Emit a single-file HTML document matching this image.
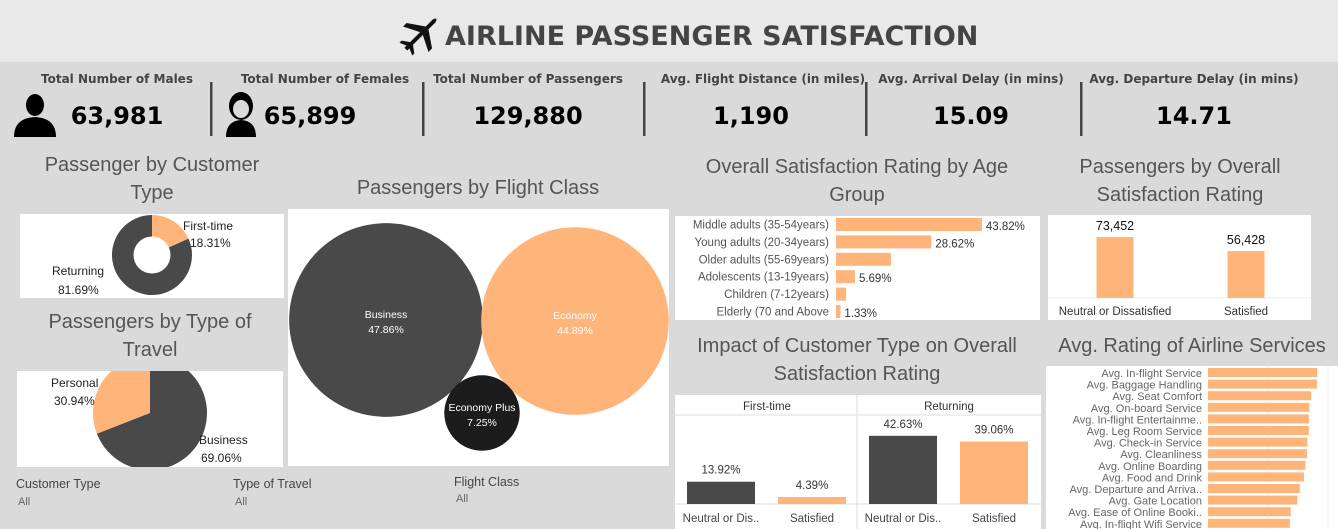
<!DOCTYPE html>
<html><head><meta charset="utf-8"><style>
html,body{margin:0;padding:0;width:1338px;height:529px;overflow:hidden;background:#dadada;}
svg{display:block;}
text{font-family:"Liberation Sans",sans-serif;}
text.dv{font-family:"DejaVu Sans",sans-serif;}
</style></head><body>
<svg id="s" width="1338" height="529" xmlns="http://www.w3.org/2000/svg">
<rect x="0" y="0" width="1338" height="529" fill="#dadada"/>
<rect x="0" y="0" width="1338" height="62" fill="#e9e9e9"/>
<g transform="translate(420,35) rotate(-45)">
<path d="M-20,-2 L20,-2 Q26,0 20,2 L-20,2 Z M2,-2 L-6,-18 L-1,-18 L10,-2 Z M2,2 L-6,18 L-1,18 L10,2 Z M-17,-2 L-20,-9 L-17,-9 L-12,-2 Z M-17,2 L-20,9 L-17,9 L-12,2 Z" fill="#111"/>
</g>
<text class="dv" x="445" y="45" font-weight="bold" font-size="27" fill="#444">AIRLINE PASSENGER SATISFACTION</text>
<g id="kpis"></g>
<g id="charts"></g>
</svg>
<script>
const NS="http://www.w3.org/2000/svg";
const root=document.getElementById('charts');
function el(tag,attrs,parent,txt){const e=document.createElementNS(NS,tag);for(const k in attrs)e.setAttribute(k,attrs[k]);if(txt!==undefined)e.textContent=txt;(parent||root).appendChild(e);return e;}
const ORANGE="#ffb47a",DARK="#494949",TITLE="#555";

/* KPI data */
const kpiLabels=["Total Number of Males","Total Number of Females","Total Number of Passengers","Avg. Flight Distance (in miles)","Avg. Arrival Delay (in mins)","Avg. Departure Delay (in mins)"];
const kpiValues=["63,981","65,899","129,880","1,190","15.09","14.71"];
const kpiLabelX=[117,325,528,763,971,1194];
const kpiValueX=[117,310,528,751,971,1194];
const kg=document.getElementById('kpis');
for(let i=0;i<kpiLabels.length;i++){
 let t=el('text',{x:kpiLabelX[i],y:83,'text-anchor':'middle','font-size':12,'font-weight':'bold',fill:'#444',class:'dv'},kg,kpiLabels[i]);
 
 
 let v=el('text',{x:kpiValueX[i],y:124,'text-anchor':'middle','font-size':24,'font-weight':'bold',fill:'#000',class:'dv'},kg,kpiValues[i]);
 
 
}
[210,422,643,865,1080].forEach(x=>{let l=el('rect',{x:x,y:82,width:2.5,height:54,fill:'#444'},kg);
 
 });
let mi=el('g',{},kg);
el('ellipse',{cx:35,cy:105,rx:9,ry:11,fill:'#000'},mi);
el('path',{d:'M14,137 Q14,118 35,117 Q56,118 56,137 Z',fill:'#000'},mi);
let fi=el('g',{},kg);
el('ellipse',{cx:241,cy:106,rx:12,ry:14,fill:'#000'},fi);
el('ellipse',{cx:241,cy:109,rx:8,ry:9,fill:'#dadada'},fi);
el('path',{d:'M226,137 Q226,121 241,120 Q256,121 256,137 Z',fill:'#000'},fi);

function title(lines,cx,y0,name){lines.forEach((l,i)=>{let t=el('text',{x:cx,y:y0+i*28,'text-anchor':'middle','font-size':20,fill:TITLE},root,l);
 });}
function panel(x,y,w,h,name){let r=el('rect',{x:x,y:y,width:w,height:h,fill:'#fff'});return r;}
function txt(x,y,s,opts,name){let t=el('text',Object.assign({x:x,y:y,'font-size':11.5,fill:'#222'},opts||{}),root,s);return t;}
function arc(cx,cy,r,a0,a1){const p=a=>[cx+r*Math.sin(a),cy-r*Math.cos(a)];const [x0,y0]=p(a0),[x1,y1]=p(a1);const lg=(a1-a0)>Math.PI?1:0;return `M${cx},${cy} L${x0},${y0} A${r},${r} 0 ${lg} 1 ${x1},${y1} Z`;}

/* Customer type donut */
const custCats=["First-time","Returning"];
const custVals=[18.31,81.69];
title(["Passenger by Customer","Type"],152,171,'customer-type-title');
panel(20,214,264,84,'customer-type-panel');
{let a=0;custCats.forEach((c,i)=>{const a1=a+custVals[i]/100*2*Math.PI;let p=el('path',{d:arc(152,255,40,a,a1),fill:i==0?ORANGE:DARK});
 a=a1;});
 el('circle',{cx:152,cy:255,r:18.5,fill:'#fff'});}
txt(183,230,custCats[0],{'font-size':12},'label-first-time');
txt(190,247,custVals[0].toFixed(2)+'%',{'font-size':12},'value-first-time');
txt(52,275,custCats[1],{'font-size':12},'label-returning');
txt(58,294,custVals[1].toFixed(2)+'%',{'font-size':12},'value-returning');

/* Type of travel pie */
const travelCats=["Personal","Business"];
const travelVals=[30.94,69.06];
title(["Passengers by Type of","Travel"],150,328,'type-of-travel-title');
panel(17,371,266,96,'type-of-travel-panel');
{const cp=el('clipPath',{id:'tc'});el('rect',{x:17,y:371,width:266,height:96},cp);}
{const g=el('g',{'clip-path':'url(#tc)'});let a=-travelVals[0]/100*2*Math.PI;
 travelCats.forEach((c,i)=>{const a1=a+travelVals[i]/100*2*Math.PI;let p=el('path',{d:arc(150,413,57,a,a1),fill:i==0?ORANGE:DARK},g);
 a=a1;});}
txt(51,387,travelCats[0],{'font-size':12},'label-personal');
txt(54,405,travelVals[0].toFixed(2)+'%',{'font-size':12},'value-personal');
txt(199,444,travelCats[1],{'font-size':12},'label-business');
txt(201,462,travelVals[1].toFixed(2)+'%',{'font-size':12},'value-business');

/* Flight class bubbles */
const classCats=["Business","Economy","Economy Plus"];
const classVals=[47.86,44.89,7.25];
const classCenters=[[386,320],[575,321],[482,413]];
const classColors=[DARK,ORANGE,"#1c1c1c"];
title(["Passengers by Flight Class"],478,194,'flight-class-title');
panel(288,209,381,257,'flight-class-panel');
classCats.forEach((c,i)=>{const r=14*Math.sqrt(classVals[i]);let ci=el('circle',{cx:classCenters[i][0],cy:classCenters[i][1],r:r,fill:classColors[i]});
 
 txt(classCenters[i][0],classCenters[i][1]-2,c,{'text-anchor':'middle','font-size':10.5,fill:'#fff'},'bubble-label');
 txt(classCenters[i][0],classCenters[i][1]+13,classVals[i].toFixed(2)+'%',{'text-anchor':'middle','font-size':10.5,fill:'#fff'},'bubble-value');});

/* Filters */
txt(16,488,'Customer Type',{'font-size':12.5,fill:'#444'},'filter-customer-type');
txt(18,505,'All',{'font-size':11,fill:'#666'},'filter-customer-type-value');
txt(233,488,'Type of Travel',{'font-size':12.5,fill:'#444'},'filter-type-of-travel');
txt(235,505,'All',{'font-size':11,fill:'#666'},'filter-type-of-travel-value');
txt(454,486,'Flight Class',{'font-size':12.5,fill:'#444'},'filter-flight-class');
txt(456,502,'All',{'font-size':11,fill:'#666'},'filter-flight-class-value');

/* Age group bars */
const ageCats=["Middle adults  (35-54years)","Young adults  (20-34years)","Older adults  (55-69years)","Adolescents  (13-19years)","Children (7-12years)","Elderly  (70 and Above"];
const ageVals=[43.82,28.62,16.5,5.69,3.04,1.33];
const ageShowLabel=[true,true,false,true,false,true];
title(["Overall Satisfaction Rating by Age","Group"],857,173,'age-group-title');
panel(675,216,365,104,'age-group-panel');
{const x0=836,sx=v=>v*3.33,y=i=>218+i*17.4;
 ageCats.forEach((c,i)=>{let b=el('rect',{x:x0,y:y(i),width:sx(ageVals[i]),height:13,fill:ORANGE});
  
  txt(829,y(i)+10.5,c,{'text-anchor':'end','font-size':11.5,fill:'#555'},'age-label');
  if(ageShowLabel[i])txt(x0+sx(ageVals[i])+4,y(i)+12,ageVals[i].toFixed(2)+'%',{'font-size':11.5,fill:'#333'},'age-value');});}

/* Overall satisfaction */
const satCats=["Neutral or Dissatisfied","Satisfied"];
const satVals=[73452,56428];
title(["Passengers by Overall","Satisfaction Rating"],1180,173,'overall-satisfaction-title');
panel(1048,215,263,105,'overall-satisfaction-panel');
el('line',{x1:1048,y1:298,x2:1311,y2:298,stroke:'#eee'});
{const base=298,sy=v=>v*0.00083,cx=[1115,1246];
 satCats.forEach((c,i)=>{let b=el('rect',{x:cx[i]-18.5,y:base-sy(satVals[i]),width:37,height:sy(satVals[i]),fill:ORANGE});
  
  txt(cx[i],base-sy(satVals[i])-7,satVals[i].toLocaleString('en-US'),{'text-anchor':'middle','font-size':12.5,fill:'#111'},'satisfaction-value');
  txt(cx[i],315,c,{'text-anchor':'middle','font-size':11.5,fill:'#333'},'satisfaction-label');});}

/* Impact of customer type */
const impactGroups=["First-time","Returning"];
const impactCats=["Neutral or Dis..","Satisfied"];
const impactVals=[[13.92,4.39],[42.63,39.06]];
title(["Impact of Customer Type on Overall","Satisfaction Rating"],857,352,'impact-title');
panel(675,395,366,134,'impact-panel');
el('line',{x1:675,y1:415,x2:1041,y2:415,stroke:'#ddd'});
el('line',{x1:857,y1:395,x2:857,y2:529,stroke:'#ddd'});
el('line',{x1:675,y1:504,x2:1041,y2:504,stroke:'#ddd'});
{const base=504,sy=v=>v*1.6;
 impactGroups.forEach((g,gi)=>{const gx=675+gi*182;
  txt(gx+92,410,g,{'text-anchor':'middle','font-size':11.5,fill:'#333'},'impact-group-header');
  impactCats.forEach((c,ci)=>{const x=gx+12+ci*91,v=impactVals[gi][ci];
   let b=el('rect',{x:x,y:base-sy(v),width:68,height:sy(v),fill:ci==0?DARK:ORANGE});
   
   txt(x+34,base-sy(v)-8,v.toFixed(2)+'%',{'text-anchor':'middle','font-size':11.5,fill:'#333'},'impact-value');
   txt(x+34,522,c,{'text-anchor':'middle','font-size':11.5,fill:'#444'},'impact-category');});});}

/* Airline services */
const svcCats=["Avg. In-flight Service","Avg. Baggage Handling","Avg. Seat Comfort","Avg. On-board Service","Avg. In-flight Entertainme..","Avg. Leg Room Service","Avg. Check-in Service","Avg. Cleanliness","Avg. Online Boarding","Avg. Food and Drink","Avg. Departure and Arriva..","Avg. Gate Location","Avg. Ease of Online Booki..","Avg. In-flight Wifi Service"];
const svcVals=[3.64,3.63,3.44,3.38,3.36,3.36,3.31,3.30,3.25,3.20,3.06,2.98,2.76,2.73];
title(["Avg. Rating of Airline Services"],1192,352,'services-title');
panel(1046,366,292,163,'services-panel');
{const x0=1208,sx=v=>v*30,y=i=>368+i*11.6;
 [2,4].forEach(t=>el('line',{x1:x0+sx(t),y1:366,x2:x0+sx(t),y2:529,stroke:'#eee'}));
 svcCats.forEach((c,i)=>{let b=el('rect',{x:x0,y:y(i),width:sx(svcVals[i]),height:9,fill:ORANGE});
  
  txt(1202,y(i)+9,c,{'text-anchor':'end','font-size':11,fill:'#666'},'service-label');});}
</script>
</body></html>
